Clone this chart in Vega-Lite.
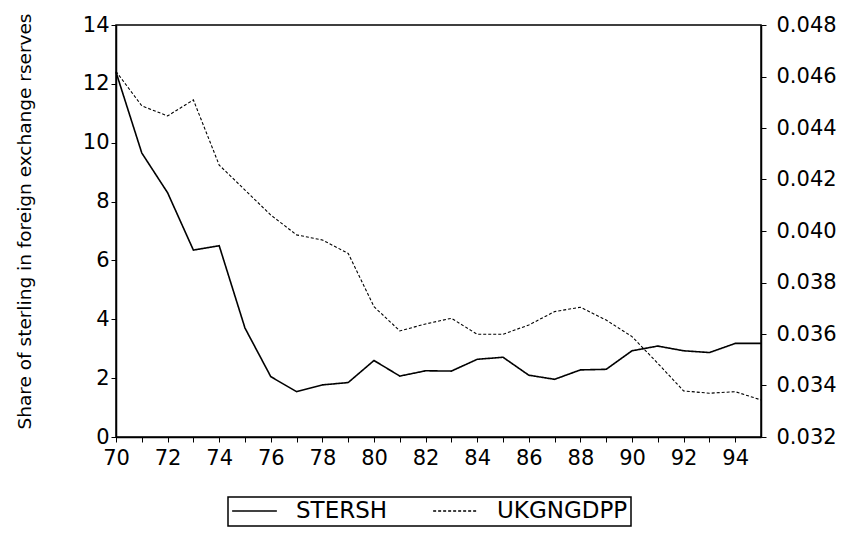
{
  "$schema": "https://vega.github.io/schema/vega-lite/v6.json",
  "width": 645,
  "height": 412,
  "autosize": {"type": "none"},
  "padding": {"left": 116, "top": 25, "right": 88, "bottom": 98},
  "background": "white",
  "config": {
    "view": {"stroke": "black", "strokeWidth": 1.5},
    "font": "DejaVu Sans",
    "axis": {
      "domainColor": "black",
      "domainWidth": 1.5,
      "tickColor": "black",
      "tickSize": 5,
      "grid": false,
      "labelColor": "black",
      "labelFont": "DejaVu Sans",
      "labelFontSize": 21,
      "titleFont": "DejaVu Sans",
      "titleFontWeight": "normal",
      "titleColor": "black"
    },
    "legend": {
      "orient": "none",
      "legendX": 112,
      "legendY": 472,
      "direction": "horizontal",
      "strokeColor": "black",
      "strokeWidth": 1.5,
      "cornerRadius": 0,
      "padding": 3,
      "columnPadding": 44,
      "symbolType": "stroke",
      "symbolSize": 2000,
      "clipHeight": 22,
      "symbolStrokeColor": "black",
      "symbolStrokeWidth": 1.5,
      "labelFont": "DejaVu Sans",
      "labelFontSize": 23,
      "labelColor": "black",
      "labelOffset": 18,
      "title": null
    }
  },
  "data": {
    "values": [
      {"year": 1970, "STERSH": 12.4, "UKGNGDPP": 0.0462},
      {"year": 1971, "STERSH": 9.65, "UKGNGDPP": 0.04486},
      {"year": 1972, "STERSH": 8.3, "UKGNGDPP": 0.04447},
      {"year": 1973, "STERSH": 6.35, "UKGNGDPP": 0.04509},
      {"year": 1974, "STERSH": 6.5, "UKGNGDPP": 0.04256},
      {"year": 1975, "STERSH": 3.7, "UKGNGDPP": 0.04159},
      {"year": 1976, "STERSH": 2.05, "UKGNGDPP": 0.04062},
      {"year": 1977, "STERSH": 1.54, "UKGNGDPP": 0.03985},
      {"year": 1978, "STERSH": 1.77, "UKGNGDPP": 0.03965},
      {"year": 1979, "STERSH": 1.85, "UKGNGDPP": 0.03913},
      {"year": 1980, "STERSH": 2.6, "UKGNGDPP": 0.03706},
      {"year": 1981, "STERSH": 2.07, "UKGNGDPP": 0.03612},
      {"year": 1982, "STERSH": 2.25, "UKGNGDPP": 0.03639},
      {"year": 1983, "STERSH": 2.24, "UKGNGDPP": 0.03661},
      {"year": 1984, "STERSH": 2.64, "UKGNGDPP": 0.03599},
      {"year": 1985, "STERSH": 2.71, "UKGNGDPP": 0.03599},
      {"year": 1986, "STERSH": 2.1, "UKGNGDPP": 0.03635},
      {"year": 1987, "STERSH": 1.96, "UKGNGDPP": 0.03687},
      {"year": 1988, "STERSH": 2.28, "UKGNGDPP": 0.03704},
      {"year": 1989, "STERSH": 2.3, "UKGNGDPP": 0.03654},
      {"year": 1990, "STERSH": 2.93, "UKGNGDPP": 0.0359},
      {"year": 1991, "STERSH": 3.09, "UKGNGDPP": 0.03486},
      {"year": 1992, "STERSH": 2.93, "UKGNGDPP": 0.03379},
      {"year": 1993, "STERSH": 2.87, "UKGNGDPP": 0.0337},
      {"year": 1994, "STERSH": 3.18, "UKGNGDPP": 0.03376},
      {"year": 1995, "STERSH": 3.18, "UKGNGDPP": 0.03344}
    ]
  },
  "encoding": {
    "x": {
      "field": "year",
      "type": "quantitative",
      "scale": {"domain": [1970, 1995], "nice": false, "zero": false},
      "axis": {
        "title": null,
        "values": [1970,1971,1972,1973,1974,1975,1976,1977,1978,1979,1980,1981,1982,1983,1984,1985,1986,1987,1988,1989,1990,1991,1992,1993,1994],
        "labelExpr": "datum.value % 2 == 0 ? format(datum.value % 100, '02d') : ''",
        "labelPadding": 5,
        "labelFlush": false,
        "labelOverlap": false
      }
    }
  },
  "layer": [
    {
      "mark": {"type": "line", "color": "black", "strokeWidth": 1.6},
      "encoding": {
        "y": {
          "field": "STERSH",
          "type": "quantitative",
          "scale": {"domain": [0, 14], "nice": false},
          "axis": {
            "title": "Share of sterling in foreign exchange rserves",
            "titleFontSize": 18.5,
            "titlePadding": 48,
            "titleY": 196,
            "values": [0, 2, 4, 6, 8, 10, 12, 14],
            "labelPadding": 2
          }
        },
        "strokeDash": {
          "datum": "STERSH",
          "type": "nominal",
          "scale": {"domain": ["STERSH", "UKGNGDPP"], "range": [[1, 0], [3, 2]]}
        }
      }
    },
    {
      "mark": {"type": "line", "color": "black", "strokeWidth": 1.1},
      "encoding": {
        "y": {
          "field": "UKGNGDPP",
          "type": "quantitative",
          "scale": {"domain": [0.032, 0.048], "nice": false, "zero": false},
          "axis": {
            "orient": "right",
            "title": null,
            "format": ".3f",
            "values": [0.032, 0.034, 0.036, 0.038, 0.040, 0.042, 0.044, 0.046, 0.048],
            "labelPadding": 10
          }
        },
        "strokeDash": {"datum": "UKGNGDPP", "type": "nominal"}
      }
    }
  ],
  "resolve": {"scale": {"y": "independent"}}
}
